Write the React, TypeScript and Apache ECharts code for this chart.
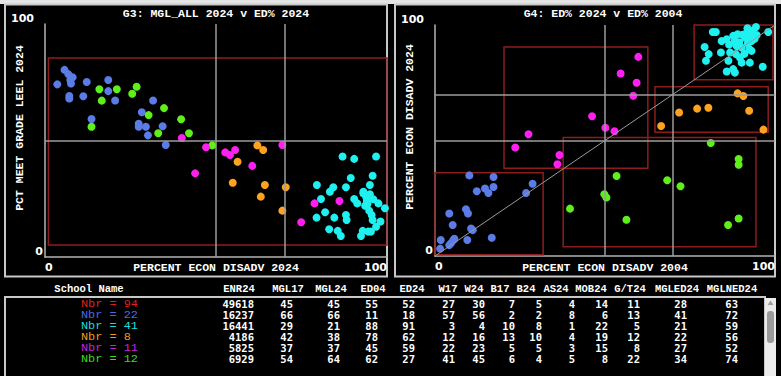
import React, { useEffect, useRef } from "react";
import * as echarts from "echarts";

// ---------- G3: MGL_ALL 2024 (y) v ED% 2024 (x) ----------
const g3Blue = [[3.6,74.1],[5.7,80.3],[6.8,78.5],[8.1,77.1],[7.6,74.5],[7.1,69.1],[7.1,68.0],[11.2,69.0],[12.2,75.1],[13.6,59.2],[18.5,76.0],[18.5,71.2],[20.5,67.2],[31.6,67.2],[28.3,62.1],[27.4,57.2],[27.4,55.9],[29.5,55.9],[30.1,52.2],[34.4,56.1],[35.3,48.1],[7.4,76.0]];
const g3Green = [[15.9,72.0],[16.6,67.1],[21.0,72.0],[13.6,55.9],[25.5,70.1],[26.8,73.1],[30.3,60.9],[34.8,63.9],[33.1,53.1],[39.8,59.1],[42.1,53.1],[48.9,47.9]];
const g3Magenta = [[40.0,51.1],[47.1,47.1],[43.9,35.9],[52.7,44.9],[54.1,43.8],[55.6,45.9],[60.6,39.1],[69.4,48.1],[74.9,14.9],[78.8,23.0],[86.1,24.0]];
const g3Orange = [[62.1,47.9],[63.8,45.9],[56.3,40.9],[54.9,31.9],[64.3,30.9],[63.1,25.9],[70.4,29.9],[69.4,19.9]];
const g3Cyan = [[87.0,43.1],[90.4,42.1],[96.8,43.1],[89.4,33.9],[95.8,34.9],[79.5,30.9],[84.3,29.9],[83.3,28.0],[88.0,29.9],[95.0,30.9],[80.7,24.9],[90.4,24.9],[91.3,23.0],[93.1,27.3],[93.9,25.9],[94.1,24.0],[95.0,26.9],[94.3,22.7],[97.5,23.0],[99.4,20.9],[81.9,19.2],[84.6,16.9],[79.4,16.9],[88.0,18.0],[88.2,15.9],[94.8,19.9],[95.5,18.0],[95.8,15.9],[98.1,15.2],[96.8,13.0],[83.1,11.9],[85.6,11.2],[86.5,9.0],[92.4,9.0],[92.9,11.2],[94.5,10.9],[95.3,10.9],[93.1,28.0],[94.6,25.5],[93.6,22.0],[96.0,24.8]];

// ---------- G4: ED% 2024 (y) v ED% 2004 (x) ----------
const g4Blue = [[10.1,34.9],[17.2,34.2],[12.3,28.0],[14.7,29.2],[15.7,27.3],[17.2,29.9],[28.7,31.3],[26.8,27.3],[4.2,18.4],[9.1,20.2],[9.7,18.4],[5.2,13.4],[10.6,11.9],[11.1,11.2],[16.7,7.9],[9.5,6.9],[1.7,6.9],[1.5,3.2],[4.7,5.5],[5.4,6.9],[5.7,7.5],[4.2,4.7]];
const g4Magenta = [[59.8,86.2],[54.6,79.0],[59.3,75.0],[58.3,69.4],[46.2,60.5],[50.1,55.5],[52.8,54.0],[27.5,52.7],[23.6,47.0],[36.6,43.7],[36.0,39.7]];
const g4Orange = [[89.0,70.4],[90.7,69.3],[92.4,62.9],[80.4,64.2],[77.1,63.8],[71.8,62.1],[66.5,56.3],[96.6,54.7]];
const g4Green = [[81.1,48.9],[89.3,42.0],[89.3,39.5],[53.4,34.6],[68.3,32.8],[72.2,30.2],[49.8,26.7],[50.4,25.3],[39.7,20.5],[56.3,15.7],[89.3,16.2],[86.2,13.4]];
const g4Cyan = [[81.7,97.0],[82.6,97.0],[79.3,90.5],[80.5,87.4],[79.7,84.5],[84.1,88.1],[84.3,93.1],[85.8,93.8],[87.7,95.3],[88.2,93.1],[86.8,88.1],[86.3,84.5],[85.8,79.9],[87.7,80.9],[88.2,79.4],[88.7,90.9],[88.5,87.4],[89.7,85.9],[90.2,83.7],[91.2,94.5],[91.7,96.7],[91.9,98.6],[92.6,95.3],[93.1,93.1],[93.6,96.0],[94.4,99.1],[94.6,95.7],[92.5,89.5],[93.1,88.8],[92.6,83.7],[96.4,81.9],[98.0,97.0],[90.2,90.2],[89.5,92.5],[90.5,95.8],[92.0,92.0],[93.0,97.5],[89.0,96.0],[86.5,91.5],[94.0,94.0],[91.0,87.5]];
const diagonal = [[0,0],[100,100]];

// reference lines and boxes
const g3RefX = [50, 70];
const g3RefY = [50];
const g4RefX = [50, 70];
const g4RefY = [50, 70];
const g3Boxes = [[[1,5.2],[100.5,85.4]]];
const g4Boxes = [
  [[0,0.5],[31.8,36]],
  [[20.3,38],[62.6,90.5]],
  [[37.7,4],[94.4,51.3]],
  [[64.7,53.6],[98,73.3]],
  [[76.2,76.3],[99.4,103]],
];
const g3RefLabels = [[0,50,"50%"],[50,0,"50"],[70,0,"70"]];
const g4RefLabels = [[0,70,"70"],[0,50,"50%"],[50,0,"50"],[70,0,"70"]];
const axisTitles = ["PERCENT ECON DISADV 2024", "PERCENT ECON DISADV 2004"];

// ---------- table ----------
const tableHeaders = ["ENR24","MGL17","MGL24","ED04","ED24","W17","W24","B17","B24","AS24","MOB24","G/T24","MGLED24","MGLNED24"];
const rowLabels = ["Nbr = 94","Nbr = 22","Nbr = 41","Nbr = 8","Nbr = 11","Nbr = 12"];
const ENR24 = [49618,16237,16441,4186,5825,6929];
const MGL17 = [45,66,29,42,37,54];
const MGL24 = [45,66,21,38,37,64];
const ED04 = [55,11,88,78,45,62];
const ED24 = [52,18,91,62,59,27];
const W17 = [27,57,3,12,22,41];
const W24 = [30,56,4,16,23,45];
const B17 = [7,2,10,13,5,6];
const B24 = [5,2,8,10,5,4];
const AS24 = [4,8,1,4,3,5];
const MOB24 = [14,6,22,19,15,8];
const GT24 = [11,13,5,12,8,22];
const MGLED24 = [28,41,21,22,27,34];
const MGLNED24 = [63,72,59,56,52,74];

// layout (pixels)
const headerCenters = [239,288,331,373,412,448,474,500,526,556,591,630,677,732];
const colRights = [254,293,340,378,415,455,485,515,542,575,608,640,687,738];
const rowColors = ["#dd2222","#4a6ae0","#19dede","#f09a22","#c028d8","#3edc1e"];

const C = { blue: "#5b7ce6", green: "#5ff01c", cyan: "#1ff0f0", orange: "#ffa21f", magenta: "#ff1ff0" };

const MONO = "Liberation Mono";
const SANS = "DejaVu Sans";

function xAxisFor(grid: number) {
  return {
    type: "value", gridIndex: grid, min: 0, max: 100, interval: 100,
    splitLine: { show: false }, axisTick: { show: false },
    axisLine: { show: true, lineStyle: { color: "#b4b4b4", width: 1.5 } },
    axisLabel: { color: "#ffffff", fontWeight: "bold", fontSize: 11, fontFamily: SANS, margin: 5, alignMinLabel: "left", alignMaxLabel: "right" },
  };
}
function yAxisFor(grid: number) {
  return {
    type: "value", gridIndex: grid, min: 0, max: 100, interval: 100,
    splitLine: { show: false }, axisTick: { show: false },
    axisLine: { show: true, lineStyle: { color: "#b4b4b4", width: 1.5 } },
    axisLabel: {
      color: "#ffffff", fontWeight: "bold", fontSize: 11, fontFamily: SANS, margin: 2,
      verticalAlignMinLabel: "bottom", verticalAlignMaxLabel: "bottom",
      formatter: (v: number) => (v === 100 ? "{t|100}" : "{z|0}"),
      rich: {
        t: { padding: [0, 9, 0, 0], color: "#ffffff", fontWeight: "bold", fontSize: 11, fontFamily: SANS },
        z: { color: "#ffffff", fontWeight: "bold", fontSize: 11, fontFamily: SANS },
      },
    },
  };
}

function scatter(grid: number, data: number[][], color: string) {
  return {
    type: "scatter", xAxisIndex: grid, yAxisIndex: grid, data,
    symbolSize: 8, itemStyle: { color, opacity: 1 }, silent: true,
  };
}

function refSeries(grid: number, labels: any[], rx: number[], ry: number[], boxes: number[][][]) {
  return {
    type: "scatter", xAxisIndex: grid, yAxisIndex: grid, clip: false,
    data: labels.map((l) => ({ value: [l[0], l[1]], name: l[2] })),
    symbolSize: 0.1, itemStyle: { opacity: 0 }, silent: true, z: 1,
    label: { show: true, formatter: (p: any) => p.name, position: [3, -11], color: "#d0d0d0", fontSize: 10, fontFamily: SANS },
    markLine: {
      silent: true, symbol: ["none", "none"], animation: false,
      lineStyle: { color: "#9c9c9c", width: 1.5, type: "solid" },
      label: { show: false },
      data: [...rx.map((v) => ({ xAxis: v })), ...ry.map((v) => ({ yAxis: v }))],
    },
    markArea: {
      silent: true,
      itemStyle: { color: "rgba(0,0,0,0)", borderColor: "#8e1c1c", borderWidth: 1.5 },
      data: boxes.map((b) => [{ coord: b[0] }, { coord: b[1] }]),
    },
  };
}

function buildTableGraphics() {
  const cols = [ENR24, MGL17, MGL24, ED04, ED24, W17, W24, B17, B24, AS24, MOB24, GT24, MGLED24, MGLNED24];
  const els: any[] = [];
  const hdr = { fill: "#ffffff", font: `bold 10.5px '${MONO}'`, textAlign: "center", textVerticalAlign: "middle", lineHeight: 10 };
  els.push({ type: "text", x: 89, y: 289, style: { ...hdr, text: "School Name" } });
  tableHeaders.forEach((h, i) => {
    els.push({ type: "text", x: headerCenters[i], y: 289, style: { ...hdr, text: h } });
  });
  rowLabels.forEach((lab, r) => {
    const y = 304 + r * 11;
    els.push({ type: "text", x: 81, y, scaleX: 1.13, scaleY: 1.05, style: { text: lab, fill: rowColors[r], font: `10.5px '${MONO}'`, textAlign: "left", textVerticalAlign: "middle", lineHeight: 10 } });
    cols.forEach((col, c) => {
      els.push({ type: "text", x: colRights[c], y, style: { text: String(col[r]), fill: "#ffffff", font: `bold 10.5px 'DejaVu Sans Mono'`, textAlign: "right", textVerticalAlign: "middle", lineHeight: 10 } });
    });
  });
  return els;
}

export default function App() {
  const ref = useRef<HTMLDivElement>(null);
  useEffect(() => {
    document.body.style.margin = "0";
    const chart = echarts.init(ref.current!, null, { renderer: "svg" });
    const titleStyle = { fill: "#ffffff", font: `bold 11.5px '${MONO}'`, textAlign: "center", textVerticalAlign: "middle" };
    const option: any = {
      animation: false,
      backgroundColor: "#000000",
      grid: [
        { left: 45, top: 24, width: 342, height: 233 },
        { left: 435, top: 25, width: 340, height: 231 },
      ],
      xAxis: [xAxisFor(0), xAxisFor(1)],
      yAxis: [yAxisFor(0), yAxisFor(1)],
      series: [
        refSeries(0, g3RefLabels, g3RefX, g3RefY, g3Boxes),
        scatter(0, g3Cyan, C.cyan),
        scatter(0, g3Orange, C.orange),
        scatter(0, g3Blue, C.blue),
        scatter(0, g3Green, C.green),
        scatter(0, g3Magenta, C.magenta),
        {
          type: "line", xAxisIndex: 1, yAxisIndex: 1, data: diagonal, symbol: "none", silent: true,
          lineStyle: { color: "#9a9a9a", width: 1 },
        },
        refSeries(1, g4RefLabels, g4RefX, g4RefY, g4Boxes),
        scatter(1, g4Blue, C.blue),
        scatter(1, g4Magenta, C.magenta),
        scatter(1, g4Green, C.green),
        scatter(1, g4Orange, C.orange),
        scatter(1, g4Cyan, C.cyan),
      ],
      graphic: [
        { type: "rect", shape: { x: 0, y: 0, width: 781, height: 4 }, style: { fill: "#e4e4e4" }, silent: true },
        { type: "rect", shape: { x: 5, y: 4.5, width: 382, height: 272 }, style: { fill: "none", stroke: "#c8c8c8", lineWidth: 2 }, silent: true },
        { type: "rect", shape: { x: 395, y: 4.5, width: 380, height: 272 }, style: { fill: "none", stroke: "#c8c8c8", lineWidth: 2 }, silent: true },
        { type: "rect", shape: { x: 5, y: 297, width: 760, height: 90 }, style: { fill: "none", stroke: "#c8c8c8", lineWidth: 2 }, silent: true },
        { type: "text", x: 216, y: 13, style: { ...titleStyle, text: "G3: MGL_ALL 2024 v ED% 2024" } },
        { type: "text", x: 603, y: 13, style: { ...titleStyle, text: "G4: ED% 2024 v ED% 2004" } },
        { type: "text", x: 216, y: 267, style: { ...titleStyle, text: axisTitles[0] } },
        { type: "text", x: 605, y: 267, style: { ...titleStyle, text: axisTitles[1] } },
        { type: "text", x: 19, y: 128, rotation: Math.PI / 2, style: { ...titleStyle, text: "PCT MEET GRADE LEEL 2024" } },
        { type: "text", x: 409, y: 127, rotation: Math.PI / 2, style: { ...titleStyle, text: "PERCENT ECON DISADV 2024" } },
        // scrollbar
        { type: "rect", shape: { x: 765, y: 298, width: 11, height: 80 }, style: { fill: "#ececec" }, silent: true },
        { type: "polygon", shape: { points: [[767.5, 305], [770.5, 300.5], [773.5, 305]] }, style: { fill: "#a0a0a0" }, silent: true },
        { type: "rect", shape: { x: 767, y: 311, width: 7, height: 32, r: 3 }, style: { fill: "#9a9a9a" }, silent: true },
        ...buildTableGraphics(),
      ],
    };
    chart.setOption(option);
    return () => chart.dispose();
  }, []);
  return <div ref={ref} style={{ width: 781, height: 376 }} />;
}
